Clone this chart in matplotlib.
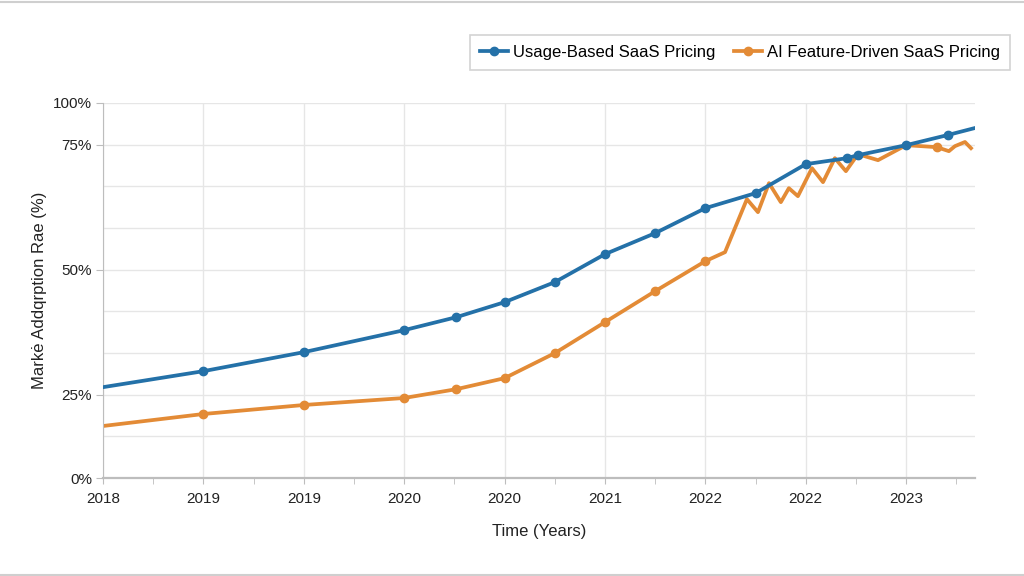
import numpy as np
import matplotlib; matplotlib.use("Agg")
import matplotlib.pyplot as plt
import matplotlib.ticker as mticker
from matplotlib.lines import Line2D

# ---- data ----
BLUE_X=[2018.0,2018.5,2019.0,2019.5,2019.76,2020.0,2020.25,2020.5,2020.75,2021.0,
        2021.25,2021.5,2021.705,2021.76,2022.0,2022.208,2022.343]
BLUE_Y=[26.5,29.7,33.5,37.9,40.5,43.5,47.5,53.1,57.3,62.3,
        65.3,71.1,72.3,72.9,74.9,80.8,85.0]
ORNG_X=[2018.0,2018.5,2019.0,2019.5,2019.76,2020.0,2020.25,2020.5,2020.75,2021.0,
        2021.098,2021.207,2021.262,2021.317,2021.376,2021.416,2021.461,2021.531,
        2021.586,2021.645,2021.700,2021.760,2021.860,2022.0,2022.153,2022.213,
        2022.243,2022.293,2022.323]
ORNG_Y=[15.6,19.2,21.9,24.0,26.1,28.3,33.3,39.5,45.7,51.7,
        53.5,64.1,61.5,67.3,63.5,66.3,64.7,70.3,
        67.5,72.3,69.7,73.1,71.9,74.9,74.5,73.7,
        74.7,76.6,74.3]
XTICKS=[2018.0,2018.5,2019.0,2019.5,2020.0,2020.5,2021.0,2021.5,2022.0]
XLABELS=["2018","2019","2019","2020","2020","2021","2022","2022","2023"]
YTICKS=[0,25,50,75,100]
YGRID=[12.5,100/3,125/3,175/3,200/3]

# the reference axis is not linear: piecewise spacing between labelled ticks
VK=[0,25,50,75,100]; UK=[0,2,5,8,9]
fwd=lambda v: np.interp(v,VK,UK)
inv=lambda u: np.interp(u,UK,VK)

BLUE="#2471a8"; ORANGE="#e38b36"; GRID="#e6e6e6"; SPINE="#bdbdbd"
plt.rcParams.update({"font.family":["Liberation Sans","DejaVu Sans"]})

fig=plt.figure(figsize=(10.24,5.76),dpi=100,facecolor="white")
ax=fig.add_axes([103/1024,1-478/576,(975-103)/1024,(478-103)/576])
ax.set_yscale("function",functions=(fwd,inv))

ax.plot(BLUE_X,BLUE_Y,color=BLUE,lw=2.7,marker="o",ms=6,
        markevery=list(range(1,len(BLUE_X)-1)),label="Usage-Based SaaS Pricing",zorder=3)
ax.plot(ORNG_X,ORNG_Y,color=ORANGE,lw=2.7,marker="o",ms=6,
        markevery=[1,2,3,4,5,6,7,8,9,24],label="AI Feature-Driven SaaS Pricing",zorder=2)

ax.set_xlim(2018.0,2022.343); ax.set_ylim(0,100)
ax.set_xticks(XTICKS); ax.set_xticklabels(XLABELS)
ax.xaxis.set_minor_locator(mticker.FixedLocator([t+0.25 for t in XTICKS]))
ax.set_yticks(YTICKS); ax.set_yticklabels([f"{v}%" for v in YTICKS])
ax.yaxis.set_minor_locator(mticker.FixedLocator(YGRID))
ax.yaxis.set_minor_formatter(mticker.NullFormatter())
ax.grid(True,which="major",color=GRID,lw=1)
ax.grid(True,which="minor",axis="y",color=GRID,lw=1)
ax.tick_params(axis="both",which="both",colors=SPINE,labelcolor="#222222",labelsize=11)
ax.tick_params(axis="x",which="both",length=4,pad=6)
ax.tick_params(axis="y",which="major",length=5,pad=3)
ax.tick_params(axis="y",which="minor",length=0)
for s in ("top","right"): ax.spines[s].set_visible(False)
ax.spines["left"].set_color(SPINE); ax.spines["bottom"].set_color(SPINE)
ax.spines["bottom"].set_linewidth(1.6)

ax.set_xlabel("Time (Years)",fontsize=12,color="#222222",labelpad=13)
ax.set_ylabel("Markė Addqrption Rae (%)",fontsize=12,color="#222222",labelpad=4)

leg=fig.legend(loc="upper right",bbox_to_anchor=(1010/1024,1-35/576),ncol=2,fontsize=12,
               frameon=True,fancybox=False,edgecolor="#c8c8c8",handlelength=1.7,
               columnspacing=1.1,borderpad=0.6,handletextpad=0.3,borderaxespad=0)
leg.get_frame().set_linewidth(1.2)

for yy in (1-1.5/576,1.5/576):
    fig.add_artist(Line2D([0,1],[yy,yy],transform=fig.transFigure,color="#cfcfcf",lw=1.5))

fig.savefig("out.png",dpi=100,facecolor="white")
